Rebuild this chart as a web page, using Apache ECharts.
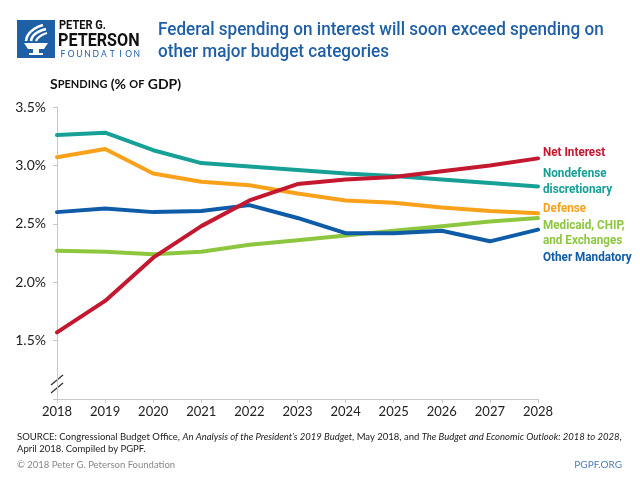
<!DOCTYPE html>
<html><head><meta charset="utf-8">
<script src="https://cdn.jsdelivr.net/npm/echarts@6/dist/echarts.min.js"></script>
<style>html,body{margin:0;padding:0;background:#fff}#c{width:640px;height:480px}</style>
</head><body><div id="c"></div>
<script>
const years = ['2018','2019','2020','2021','2022','2023','2024','2025','2026','2027','2028'];
const netInterest    = [1.57,1.84,2.21,2.48,2.70,2.84,2.88,2.90,2.95,3.00,3.06];
const nondefense     = [3.26,3.28,3.13,3.02,2.99,2.96,2.93,2.91,2.88,2.85,2.82];
const defense        = [3.07,3.14,2.93,2.86,2.83,2.76,2.70,2.68,2.64,2.61,2.59];
const medicaid       = [2.27,2.26,2.24,2.26,2.32,2.36,2.40,2.44,2.48,2.52,2.55];
const otherMandatory = [2.60,2.63,2.60,2.61,2.66,2.55,2.42,2.42,2.44,2.35,2.45];
const yMin = 1.0, yMax = 3.5, yStep = 0.5;

const C = {red:'#c3182f', teal:'#17a096', orange:'#f9a11b', green:'#8dc63f', blue:'#0e5ba8', title:'#1f5fa6'};
const HEAD = "Roboto, 'Noto Sans', sans-serif";
const BODY = "Lato, 'Noto Sans', sans-serif";

const chart = echarts.init(document.getElementById('c'), null, {renderer:'canvas'});

function line(name, data, color, z){
  return {name, type:'line', data, showSymbol:false, symbol:'none', z,
    lineStyle:{color, width:4, cap:'round', join:'round'}, itemStyle:{color}, emphasis:{disabled:true}};
}
function txt(x, y, text, size, color, weight, family, align, sx){
  return {type:'text', x, y, scaleX:sx||1, style:{text, fontSize:size, fill:color, fontWeight:weight||'normal',
    fontFamily:family||HEAD, align:align||'left', verticalAlign:'middle'}};
}

const foundation = 'FOUNDATION'.split('').map((ch, i) =>
  txt(63 + i*8.2, 54, ch, 8.5, C.title, 'normal', BODY, 'center'));

const option = {
  animation:false,
  backgroundColor:'#fff',
  grid:{left:57, right:102, top:107, bottom:81},
  xAxis:{type:'category', data:years, boundaryGap:false,
    axisLine:{lineStyle:{color:'#c8c8c8', width:1}},
    axisTick:{show:true, length:4, lineStyle:{color:'#c8c8c8'}},
    axisLabel:{color:'#222', fontSize:13, fontFamily:BODY, margin:6},
    splitLine:{show:false}},
  yAxis:{type:'value', min:yMin, max:yMax, interval:yStep,
    axisLine:{show:true, lineStyle:{color:'#c8c8c8', width:1}},
    axisTick:{show:true, length:4, lineStyle:{color:'#c8c8c8'}},
    axisLabel:{color:'#222', fontSize:14, fontFamily:BODY, margin:11,
      formatter:v => Math.abs(v-yMin)<1e-9 ? '' : v.toFixed(1)+'%'},
    splitLine:{show:false}},
  series:[
    line('Medicaid, CHIP, and Exchanges', medicaid, C.green, 2),
    line('Other Mandatory', otherMandatory, C.blue, 3),
    line('Defense', defense, C.orange, 4),
    line('Nondefense discretionary', nondefense, C.teal, 5),
    line('Net Interest', netInterest, C.red, 6)
  ],
  graphic:[
    // logo
    {type:'rect', shape:{x:17, y:20, width:38, height:38}, style:{fill:C.title}},
    {type:'polyline', shape:{points:[[26,41],[28,35],[34,29],[43,25]], smooth:0.5}, style:{stroke:'#fff', lineWidth:2.6, fill:null}},
    {type:'polyline', shape:{points:[[31,41],[33,36],[38,32],[46,29]], smooth:0.5}, style:{stroke:'#fff', lineWidth:2.6, fill:null}},
    {type:'polyline', shape:{points:[[36,41],[38,38],[42,35],[47,33]], smooth:0.5}, style:{stroke:'#fff', lineWidth:2.2, fill:null}},
    {type:'polygon', shape:{points:[[24,43],[48,43],[44,49],[28,49]]}, style:{fill:'#fff'}},
    {type:'rect', shape:{x:33, y:49, width:6, height:4}, style:{fill:'#fff'}},
    {type:'rect', shape:{x:29, y:53, width:14, height:2}, style:{fill:'#fff'}},
    txt(59, 26, 'PETER G.', 12, '#111', 'bold', HEAD, 'left', 0.92),
    txt(58, 41, 'PETERSON', 19, '#111', 'bold', HEAD, 'left', 0.85),
    ...foundation,
    // title
    txt(158, 30, 'Federal spending on interest will soon exceed spending on', 19, C.title, 500, HEAD, 'left', 0.9),
    txt(158, 52, 'other major budget categories', 19, C.title, 500, HEAD, 'left', 0.9),
    // axis title with small caps
    {type:'text', x:50, y:84, style:{
      rich:{a:{fontSize:14, fontWeight:'bold', fill:'#111', fontFamily:BODY},
            b:{fontSize:11, fontWeight:'bold', fill:'#111', fontFamily:BODY}},
      text:'{a|S}{b|PENDING} {a|(%} {b|OF} {a|GDP)}', verticalAlign:'middle'}},
    // series labels
    txt(543, 153, 'Net Interest', 13, C.red, 'bold', HEAD, 'left', 0.9),
    txt(543, 174, 'Nondefense', 13, C.teal, 'bold', HEAD, 'left', 0.9),
    txt(543, 190, 'discretionary', 13, C.teal, 'bold', HEAD, 'left', 0.9),
    txt(543, 209, 'Defense', 13, C.orange, 'bold', HEAD, 'left', 0.9),
    txt(543, 226, 'Medicaid, CHIP,', 13, C.green, 'bold', HEAD, 'left', 0.9),
    txt(543, 241, 'and Exchanges', 13, C.green, 'bold', HEAD, 'left', 0.9),
    txt(543, 258, 'Other Mandatory', 13, C.blue, 'bold', HEAD, 'left', 0.9),
    // axis break marks
    {type:'line', shape:{x1:51, y1:385, x2:63, y2:375}, style:{stroke:'#333', lineWidth:1.3}},
    {type:'line', shape:{x1:51, y1:393, x2:63, y2:383}, style:{stroke:'#333', lineWidth:1.3}},
    // footer
    {type:'text', x:17, y:437, style:{verticalAlign:'middle',
      rich:{n:{fontSize:9.5, fill:'#222', fontFamily:BODY}, i:{fontSize:9.5, fill:'#222', fontFamily:BODY, fontStyle:'italic'}},
      text:'{n|SOURCE: Congressional Budget Office, }{i|An Analysis of the President\u2019s 2019 Budget}{n|, May 2018, and }{i|The Budget and Economic Outlook: 2018 to 2028}{n|,}'}},
    txt(17, 449, 'April 2018. Compiled by PGPF.', 9.5, '#222', 'normal', BODY),
    txt(17, 465, '\u00a9 2018 Peter G. Peterson Foundation', 9.5, '#888', 'normal', BODY),
    txt(622, 465, 'PGPF.ORG', 10, '#4a7fb5', 'normal', BODY, 'right')
  ]
};
chart.setOption(option);
</script></body></html>
